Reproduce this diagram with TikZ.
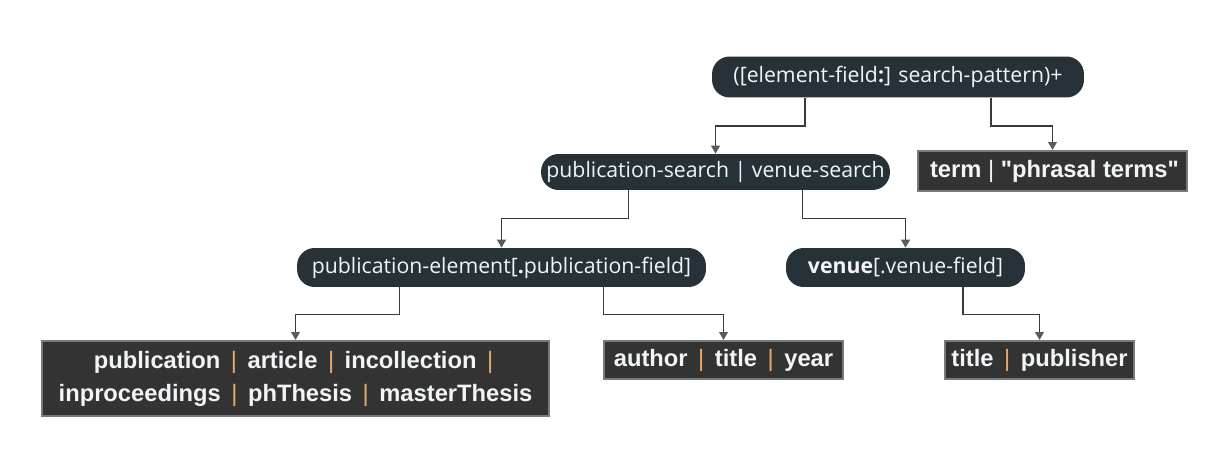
\documentclass[tikz,border=0pt]{standalone}
\usepackage{fontspec}
\setmainfont{Open Sans}
\newfontfamily\leaffont{Liberation Sans}
\usetikzlibrary{arrows.meta}

\definecolor{slate}{HTML}{263238}
\definecolor{leaffill}{HTML}{333333}
\definecolor{leafline}{HTML}{7A7A7A}
\definecolor{wire}{HTML}{3A3A3A}
\definecolor{tipgray}{HTML}{5A5A5A}
\definecolor{barorange}{HTML}{E8A86A}
\definecolor{ink}{HTML}{F2F5F7}

\newcommand{\orbar}{\,\textcolor{barorange}{\mdseries|}\,}

\tikzset{
  syntax/.style={fill=slate, text=ink, rounded corners=10pt, inner sep=0pt,
    font=\fontsize{12.1}{14}\selectfont},
  leaf/.style={fill=leaffill, draw=leafline, line width=1.2pt, text=ink, inner sep=0pt,
    align=center, font=\leaffont\bfseries\fontsize{13.5}{18.7}\selectfont},
  link/.style={draw=wire, line width=0.8pt, -{Triangle[width=5pt,length=4.5pt,color=tipgray]}}
}

\begin{document}
\begin{tikzpicture}[x=0.02cm, y=-0.02cm]
\useasboundingbox (0,0) rectangle (1214,456);
% syntax nodes
\node[syntax, minimum width=7.44cm, minimum height=0.82cm] (query) at (898,77) {([element-field\textbf{:}] search-pattern)+};
\node[syntax, minimum width=6.98cm, minimum height=0.72cm] (search) at (715.5,172) {publication-search | venue-search};
\node[syntax, minimum width=8.18cm, minimum height=0.78cm] (pubelem) at (501.5,267.5) {publication-element[\textbf{.}publication-field]};
\node[syntax, minimum width=4.78cm, minimum height=0.78cm] (venue) at (905.5,267.5) {\textbf{venue}[.venue-field]};
% leaves
\node[leaf, minimum width=5.38cm, minimum height=0.8cm] (term) at (1052.5,171) {\,term {\mdseries|} \char34 phrasal terms\char34};
\node[leaf, minimum width=10.14cm, minimum height=1.5cm] (types) at (295.5,378.5) {publication \orbar{} article \orbar{} incollection \orbar\\ inproceedings \orbar{} phThesis \orbar{} masterThesis};
\node[leaf, minimum width=4.78cm, minimum height=0.76cm] (pubfields) at (723.5,360) {author \orbar{} title \orbar{} year};
\node[leaf, minimum width=3.78cm, minimum height=0.76cm] (venfields) at (1039.5,360) {title \orbar{} publisher};
% connectors
\draw[link] ([xshift=-1.86cm]query.south) -- ++(0,28) -| (search.north);
\draw[link] ([xshift=1.86cm]query.south) -- ++(0,28) -| (term.north);
\draw[link] ([xshift=-1.745cm]search.south) -- ++(0,28) -| (pubelem.north);
\draw[link] ([xshift=1.745cm]search.south) -- ++(0,28) -| (venue.north);
\draw[link] ([xshift=-2.045cm]pubelem.south) -- ++(0,27) -| (types.north);
\draw[link] ([xshift=2.045cm]pubelem.south) -- ++(0,27) -| (pubfields.north);
\draw[link] ([xshift=1.15cm]venue.south) -- ++(0,27) -| (venfields.north);
\end{tikzpicture}
\end{document}
